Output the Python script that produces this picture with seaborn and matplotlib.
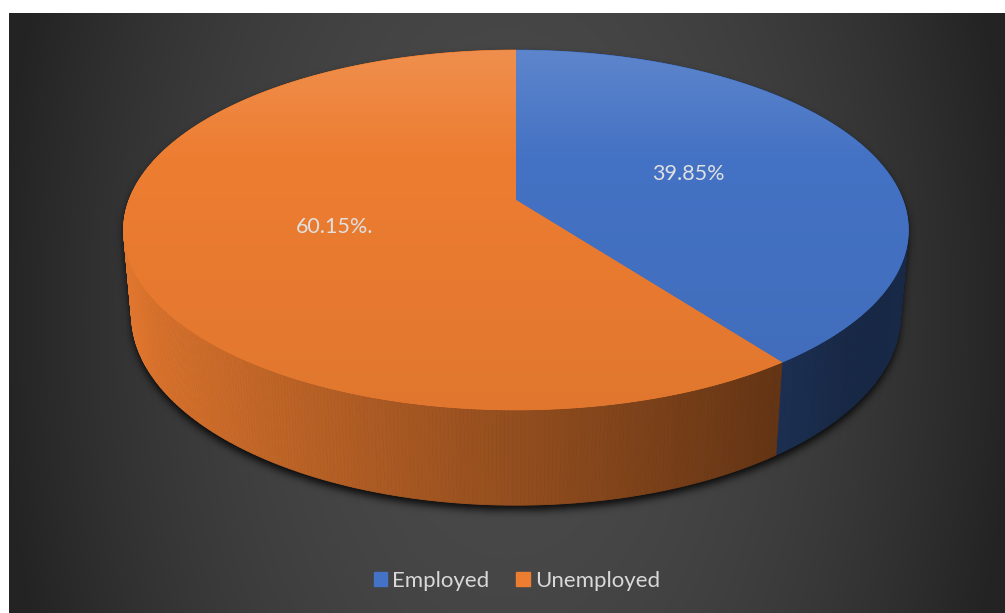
import numpy as np
import matplotlib
matplotlib.use("Agg")
import matplotlib.pyplot as plt
import seaborn as sns
from matplotlib.patches import Polygon, Patch
from matplotlib.collections import PolyCollection
from matplotlib.path import Path

# ---- data ----
categories = ["Employed", "Unemployed"]
shares = [39.85, 60.15]
value_labels = ["39.85%", "60.15%."]
base_colors = ["#4472C4", "#ED7D31"]

sns.set_theme(style="white")
plt.rcParams["font.family"] = ["Lato", "DejaVu Sans"]
palette = sns.color_palette(base_colors)

W, H = 1005, 613
fig = plt.figure(figsize=(W / 100, H / 100), dpi=100, facecolor="white")
ax = fig.add_axes([0, 0, 1, 1])
ax.set_xlim(0, W)
ax.set_ylim(H, 0)
ax.axis("off")

# ---- chart area background: dark radial gradient ----
bx0, by0 = 9, 13
xs = np.linspace(bx0, W, 500)
ys = np.linspace(by0, H, 300)
X, Y = np.meshgrid(xs, ys)
d2 = ((X - 507) / 498) ** 2 + 0.12 * ((Y - 313) / 300) ** 2
v = (74 - 37 * np.clip(d2, 0, 1.05)) / 255
bg = np.dstack([v, v, v])
ax.imshow(bg, extent=(bx0, W, H, by0), origin="upper", aspect="auto",
          interpolation="bilinear", zorder=0)

# ---- perspective camera for the 3D pie ----
theta = np.deg2rad(26.5)
cs, sn = np.cos(theta), np.sin(theta)
D = 6 * cs
focal = 392 * D
fx = focal * 0.987
cx, cy = 516, 200
thick = 0.244


def proj(x, y, z):
    depth = y * cs + D - z * sn
    up = y * sn + z * cs
    return cx + fx * x / depth, cy - focal * up / depth


def direction(a):
    # angle a in radians, clockwise from the far side of the disc
    return np.sin(a), np.cos(a)


fractions = np.array(shares) / np.sum(shares)
bounds = np.concatenate([[0], np.cumsum(fractions)]) * 2 * np.pi

# ---- soft shadow below the pie ----
ring = np.linspace(0, 2 * np.pi, 400)
pts = []
for z in (0, -thick):
    px, py = proj(np.sin(ring), np.cos(ring), z)
    pts.append(np.column_stack([px, py]))
pts = np.vstack(pts)


def hull(p):
    p = sorted(map(tuple, p))

    def cross(o, a, b):
        return (a[0] - o[0]) * (b[1] - o[1]) - (a[1] - o[1]) * (b[0] - o[0])
    lower, upper = [], []
    for q in p:
        while len(lower) >= 2 and cross(lower[-2], lower[-1], q) <= 0:
            lower.pop()
        lower.append(q)
    for q in reversed(p):
        while len(upper) >= 2 and cross(upper[-2], upper[-1], q) <= 0:
            upper.pop()
        upper.append(q)
    return np.array(lower[:-1] + upper[:-1])


sil = hull(pts)
sil_shift = sil + np.array([0, 5])
gx, gy = np.meshgrid(np.arange(W) + 0.5, np.arange(H) + 0.5)
mask = Path(sil_shift).contains_points(np.column_stack([gx.ravel(), gy.ravel()]))
mask = mask.reshape(H, W).astype(float)
sig = 4.0
k = np.arange(-14, 15)
kern = np.exp(-k ** 2 / (2 * sig ** 2))
kern /= kern.sum()
mask = np.apply_along_axis(lambda r: np.convolve(r, kern, mode="same"), 1, mask)
mask = np.apply_along_axis(lambda c: np.convolve(c, kern, mode="same"), 0, mask)
shadow = np.zeros((H, W, 4))
shadow[..., 3] = 0.85 * mask
ax.imshow(shadow, extent=(0, W, H, 0), origin="upper", aspect="auto", zorder=1)

# ---- side walls, painted back to front ----
quads, qcols, qdepth = [], [], []
for i, col in enumerate(palette):
    a0, a1 = bounds[i], bounds[i + 1]
    n = max(int((a1 - a0) / (2 * np.pi) * 720), 4)
    ang = np.linspace(a0, a1, n + 1)
    for j in range(n):
        aa, ab = ang[j], ang[j + 1]
        xa, ya = direction(aa)
        xb, yb = direction(ab)
        p1 = proj(xa, ya, 0)
        p2 = proj(xb, yb, 0)
        p3 = proj(xb, yb, -thick)
        p4 = proj(xa, ya, -thick)
        quads.append([p1, p2, p3, p4])
        xm = np.sin((aa + ab) / 2)
        f = np.clip(0.62 - 0.34 * xm, 0.36, 1.0)
        qcols.append(tuple(np.clip(np.array(col) * f, 0, 1)))
        qdepth.append((ya + yb) / 2)
order = np.argsort(qdepth)[::-1]
side = PolyCollection([quads[i] for i in order], facecolors=[qcols[i] for i in order],
                      edgecolors=[qcols[i] for i in order], linewidths=0.6, zorder=2)
ax.add_collection(side)

# ---- top faces with a soft vertical gradient ----
top_y0, top_y1 = proj(0, 1, 0)[1], proj(0, -1, 0)[1]
for i, col in enumerate(palette):
    a0, a1 = bounds[i], bounds[i + 1]
    ang = np.linspace(a0, a1, 400)
    px, py = proj(np.sin(ang), np.cos(ang), 0)
    verts = np.vstack([[cx, cy], np.column_stack([px, py])])
    base = np.array(col)
    ax.add_patch(Polygon(verts, closed=True, facecolor=base, edgecolor=base,
                         linewidth=0.5, zorder=3))
    t = np.linspace(0, 1, 256)[:, None]
    light = base + (1 - base) * 0.14
    dark = base * 0.95
    knee = 0.3
    grad = np.where(t < knee, light + (base - light) * (t / knee),
                    base + (dark - base) * ((t - knee) / (1 - knee)))
    img = grad[:, None, :]
    clip = Polygon(verts, closed=True, transform=ax.transData)
    im = ax.imshow(np.clip(img, 0, 1), extent=(verts[:, 0].min() - 2, verts[:, 0].max() + 2,
                                               top_y1 + 2, top_y0 - 2),
                   origin="upper", aspect="auto", interpolation="bilinear", zorder=3.5)
    im.set_clip_path(clip)

# ---- value labels on the top faces ----
for i, lab in enumerate(value_labels):
    mid = (bounds[i] + bounds[i + 1]) / 2
    mx, my = direction(mid)
    lx, ly = proj(0.48 * mx, 0.48 * my, 0)
    ax.text(lx, ly, lab, ha="center", va="center", fontsize=15.5,
            color="#e0e0e0", zorder=5)

# ---- legend ----
handles = [Patch(facecolor=c, edgecolor=c, label=n) for c, n in zip(palette, categories)]
fig.legend(handles=handles, loc="center", bbox_to_anchor=(517 / W, 1 - 581 / H),
           ncol=2, frameon=False, handlelength=0.6, handleheight=0.6,
           handletextpad=0.25, columnspacing=1.2, labelcolor="#d9d9d9", fontsize=16)

fig.savefig("out.png", dpi=100, facecolor="white")
